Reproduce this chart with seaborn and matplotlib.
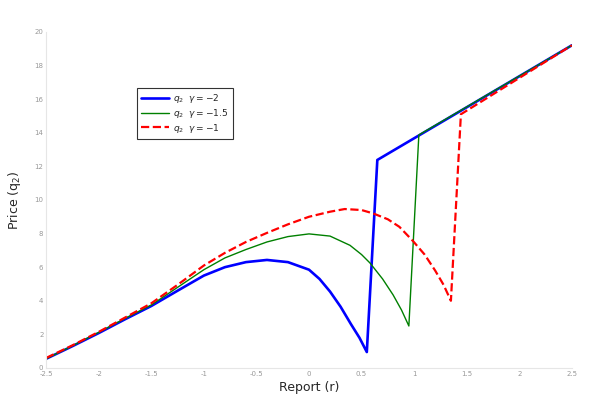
import numpy as np
import pandas as pd
import matplotlib
matplotlib.use("Agg")
import matplotlib.pyplot as plt
import seaborn as sns

# values
r_g2 = [-2.5, -2.25, -2.0, -1.75, -1.5, -1.25, -1.0, -0.8, -0.6, -0.4, -0.2, 0.0,
        0.1, 0.2, 0.3, 0.4, 0.48, 0.55, 0.65, 2.5]
q_g2 = [0.55, 1.3, 2.08, 2.9, 3.69, 4.6, 5.5, 6.0, 6.3, 6.43, 6.3, 5.85,
        5.3, 4.55, 3.65, 2.6, 1.8, 0.95, 12.38, 19.2]

r_g15 = [-2.5, -2.25, -2.0, -1.75, -1.5, -1.25, -1.0, -0.8, -0.6, -0.4, -0.2, 0.0, 0.2,
         0.39, 0.5, 0.58, 0.7, 0.8, 0.88, 0.95, 1.045, 2.5]
q_g15 = [0.55, 1.32, 2.12, 2.95, 3.75, 4.8, 5.85, 6.55, 7.05, 7.5, 7.82, 7.98, 7.85,
         7.3, 6.75, 6.25, 5.3, 4.35, 3.45, 2.5, 13.87, 19.2]

r_g1 = [-2.5, -2.25, -2.0, -1.75, -1.5, -1.25, -1.0, -0.8, -0.6, -0.4, -0.2, 0.0, 0.2,
        0.34, 0.5, 0.61, 0.75, 0.86, 0.99, 1.1, 1.2, 1.28, 1.35, 1.445, 2.5]
q_g1 = [0.6, 1.35, 2.15, 3.0, 3.85, 4.95, 6.1, 6.85, 7.5, 8.04, 8.55, 9.0, 9.3,
        9.46, 9.4, 9.2, 8.85, 8.4, 7.55, 6.75, 5.8, 4.95, 4.0, 15.1, 19.2]

labels = [r"$q_2\ \ \gamma = -2$", r"$q_2\ \ \gamma = -1.5$", r"$q_2\ \ \gamma = -1$"]
colors = ["#0000ff", "#008000", "#ff0000"]
widths = [1.9, 1.0, 1.6]
styles = ["-", "-", "--"]
x_ticks = [-2.5, -2, -1.5, -1, -0.5, 0, 0.5, 1, 1.5, 2, 2.5]
y_ticks = list(range(0, 21, 2))

sns.set_style("white")
plt.rcParams["font.family"] = ["DejaVu Sans"]

fig = plt.figure(figsize=(6, 3.94), dpi=100)
ax = fig.add_axes([0.077, 0.066, 0.876, 0.853])

for xs, ys, lab, c, lw, ls in zip([r_g2, r_g15, r_g1], [q_g2, q_g15, q_g1],
                                  labels, colors, widths, styles):
    df = pd.DataFrame({"r": xs, "q": ys})
    kw = {"dashes": (2.5, 2)} if ls == "--" else {}
    sns.lineplot(data=df, x="r", y="q", sort=False, color=c, linewidth=lw,
                 linestyle=ls, label=lab, ax=ax, **kw)

ax.set_xlim(-2.5, 2.5)
ax.set_ylim(0, 20)
ax.set_xticks(x_ticks)
ax.set_xticklabels([f"{t:g}" for t in x_ticks])
ax.set_yticks(y_ticks)
ax.tick_params(direction="in", length=4, width=0.8, color="#333333",
               labelsize=5, labelcolor="#999999", pad=2)
for s in ["top", "right"]:
    ax.spines[s].set_visible(False)
for s in ["left", "bottom"]:
    ax.spines[s].set_color("#e6e6e6")
    ax.spines[s].set_linewidth(0.8)

ax.set_xlabel("Report (r)", fontsize=9, labelpad=3)
ax.set_ylabel(r"Price (q$_2$)", fontsize=9, labelpad=8)

leg = ax.legend(loc="upper left", bbox_to_anchor=(0.164, 0.848), fontsize=6.5,
                frameon=True, fancybox=False, handlelength=3.0,
                borderpad=0.5, labelspacing=0.2, handletextpad=0.5)
leg.get_frame().set_edgecolor("black")
leg.get_frame().set_linewidth(0.8)

fig.savefig("out.png", dpi=100)
